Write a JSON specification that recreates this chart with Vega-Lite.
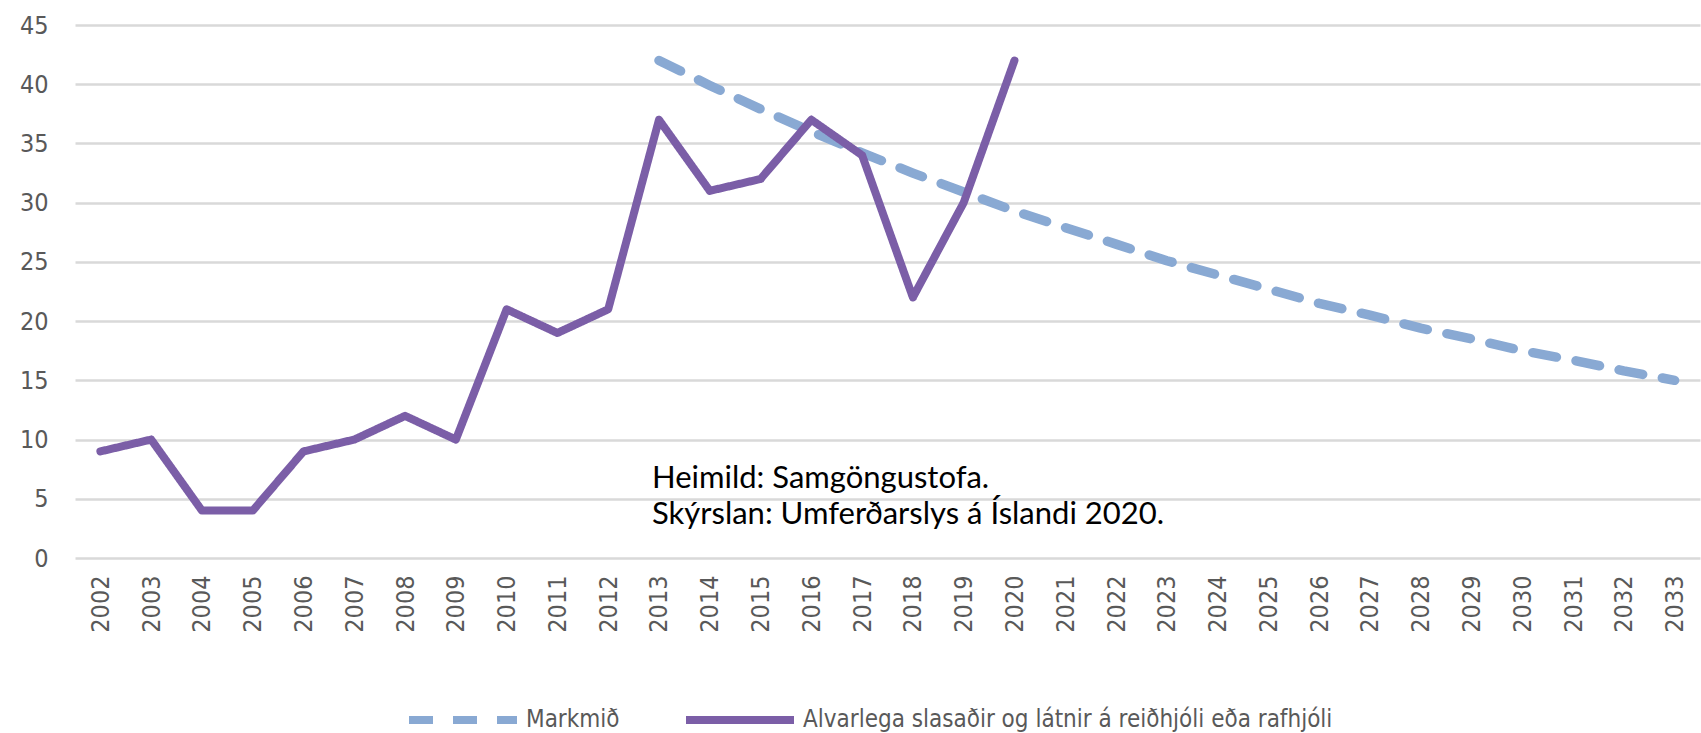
{
  "$schema": "https://vega.github.io/schema/vega-lite/v6.json",
  "width": 1625,
  "height": 533,
  "autosize": {"type": "none"},
  "padding": {"left": 75, "top": 25, "right": 1, "bottom": 175},
  "background": "white",
  "config": {
    "view": {"stroke": null},
    "font": "Liberation Sans Narrow, DejaVu Sans Condensed, Arial Narrow, sans-serif",
    "legend": {
      "title": null,
      "orient": "none",
      "legendX": 330,
      "legendY": 637,
      "direction": "horizontal",
      "symbolType": "stroke",
      "symbolSize": 11664,
      "symbolStrokeWidth": 8,
      "labelFontSize": 24,
      "labelColor": "#595959",
      "labelOffset": 5,
      "labelLimit": 0,
      "columnPadding": 50
    }
  },
  "data": {
    "values": [
      {"year": "2013", "series": "Markmið", "value": 42.0},
      {"year": "2014", "series": "Markmið", "value": 39.9},
      {"year": "2015", "series": "Markmið", "value": 37.9},
      {"year": "2016", "series": "Markmið", "value": 36.0},
      {"year": "2017", "series": "Markmið", "value": 34.2},
      {"year": "2018", "series": "Markmið", "value": 32.5},
      {"year": "2019", "series": "Markmið", "value": 30.9},
      {"year": "2020", "series": "Markmið", "value": 29.3},
      {"year": "2021", "series": "Markmið", "value": 27.9},
      {"year": "2022", "series": "Markmið", "value": 26.5},
      {"year": "2023", "series": "Markmið", "value": 25.1},
      {"year": "2024", "series": "Markmið", "value": 23.9},
      {"year": "2025", "series": "Markmið", "value": 22.7},
      {"year": "2026", "series": "Markmið", "value": 21.5},
      {"year": "2027", "series": "Markmið", "value": 20.5},
      {"year": "2028", "series": "Markmið", "value": 19.4},
      {"year": "2029", "series": "Markmið", "value": 18.5},
      {"year": "2030", "series": "Markmið", "value": 17.5},
      {"year": "2031", "series": "Markmið", "value": 16.7},
      {"year": "2032", "series": "Markmið", "value": 15.8},
      {"year": "2033", "series": "Markmið", "value": 15.0},
      {"year": "2002", "series": "Alvarlega slasaðir og látnir á reiðhjóli eða rafhjóli", "value": 9},
      {"year": "2003", "series": "Alvarlega slasaðir og látnir á reiðhjóli eða rafhjóli", "value": 10},
      {"year": "2004", "series": "Alvarlega slasaðir og látnir á reiðhjóli eða rafhjóli", "value": 4},
      {"year": "2005", "series": "Alvarlega slasaðir og látnir á reiðhjóli eða rafhjóli", "value": 4},
      {"year": "2006", "series": "Alvarlega slasaðir og látnir á reiðhjóli eða rafhjóli", "value": 9},
      {"year": "2007", "series": "Alvarlega slasaðir og látnir á reiðhjóli eða rafhjóli", "value": 10},
      {"year": "2008", "series": "Alvarlega slasaðir og látnir á reiðhjóli eða rafhjóli", "value": 12},
      {"year": "2009", "series": "Alvarlega slasaðir og látnir á reiðhjóli eða rafhjóli", "value": 10},
      {"year": "2010", "series": "Alvarlega slasaðir og látnir á reiðhjóli eða rafhjóli", "value": 21},
      {"year": "2011", "series": "Alvarlega slasaðir og látnir á reiðhjóli eða rafhjóli", "value": 19},
      {"year": "2012", "series": "Alvarlega slasaðir og látnir á reiðhjóli eða rafhjóli", "value": 21},
      {"year": "2013", "series": "Alvarlega slasaðir og látnir á reiðhjóli eða rafhjóli", "value": 37},
      {"year": "2014", "series": "Alvarlega slasaðir og látnir á reiðhjóli eða rafhjóli", "value": 31},
      {"year": "2015", "series": "Alvarlega slasaðir og látnir á reiðhjóli eða rafhjóli", "value": 32},
      {"year": "2016", "series": "Alvarlega slasaðir og látnir á reiðhjóli eða rafhjóli", "value": 37},
      {"year": "2017", "series": "Alvarlega slasaðir og látnir á reiðhjóli eða rafhjóli", "value": 34},
      {"year": "2018", "series": "Alvarlega slasaðir og látnir á reiðhjóli eða rafhjóli", "value": 22},
      {"year": "2019", "series": "Alvarlega slasaðir og látnir á reiðhjóli eða rafhjóli", "value": 30},
      {"year": "2020", "series": "Alvarlega slasaðir og látnir á reiðhjóli eða rafhjóli", "value": 42}
    ]
  },
  "layer": [
    {
      "transform": [{"filter": "datum.series === 'Markmið'"}],
      "mark": {"type": "line", "strokeWidth": 9.5, "strokeCap": "round", "strokeJoin": "round"},
      "encoding": {
        "x": {
          "field": "year",
          "type": "ordinal",
          "scale": {
            "type": "point",
            "padding": 0.5,
            "domain": ["2002","2003","2004","2005","2006","2007","2008","2009","2010","2011","2012","2013","2014","2015","2016","2017","2018","2019","2020","2021","2022","2023","2024","2025","2026","2027","2028","2029","2030","2031","2032","2033"]
          },
          "axis": {
            "title": null,
            "labelAngle": -90,
            "grid": false,
            "ticks": false,
            "domain": false,
            "labelPadding": 17,
            "labelFontSize": 25,
            "labelColor": "#595959"
          }
        },
        "y": {
          "field": "value",
          "type": "quantitative",
          "scale": {"domain": [0, 45], "nice": false, "zero": true},
          "axis": {
            "title": null,
            "values": [0, 5, 10, 15, 20, 25, 30, 35, 40, 45],
            "grid": true,
            "gridColor": "#d9d9d9",
            "gridWidth": 2.5,
            "domain": false,
            "ticks": false,
            "labelPadding": 27,
            "labelFontSize": 25,
            "labelColor": "#595959"
          }
        },
        "color": {
          "field": "series",
          "type": "nominal",
          "scale": {
            "domain": ["Markmið", "Alvarlega slasaðir og látnir á reiðhjóli eða rafhjóli"],
            "range": ["#89a9d3", "#7b5ea7"]
          }
        },
        "strokeDash": {
          "field": "series",
          "type": "nominal",
          "scale": {
            "domain": ["Markmið", "Alvarlega slasaðir og látnir á reiðhjóli eða rafhjóli"],
            "range": [[24, 20], [1, 0]]
          }
        }
      }
    },
    {
      "transform": [{"filter": "datum.series !== 'Markmið'"}],
      "mark": {"type": "line", "strokeWidth": 8, "strokeCap": "round", "strokeJoin": "round"},
      "encoding": {
        "x": {"field": "year", "type": "ordinal"},
        "y": {"field": "value", "type": "quantitative"},
        "color": {"field": "series", "type": "nominal"},
        "strokeDash": {"field": "series", "type": "nominal"}
      }
    },
    {
      "data": {"values": [{"note": "Heimild: Samgöngustofa.\nSkýrslan: Umferðarslys á Íslandi 2020."}]},
      "mark": {
        "type": "text",
        "align": "left",
        "baseline": "alphabetic",
        "lineBreak": "\n",
        "lineHeight": 36,
        "font": "Lato",
        "fontSize": 31,
        "fill": "black",
        "dx": -7
      },
      "encoding": {
        "x": {"datum": "2013", "type": "ordinal"},
        "y": {"datum": 5.9, "type": "quantitative"},
        "text": {"field": "note", "type": "nominal"}
      }
    }
  ]
}
